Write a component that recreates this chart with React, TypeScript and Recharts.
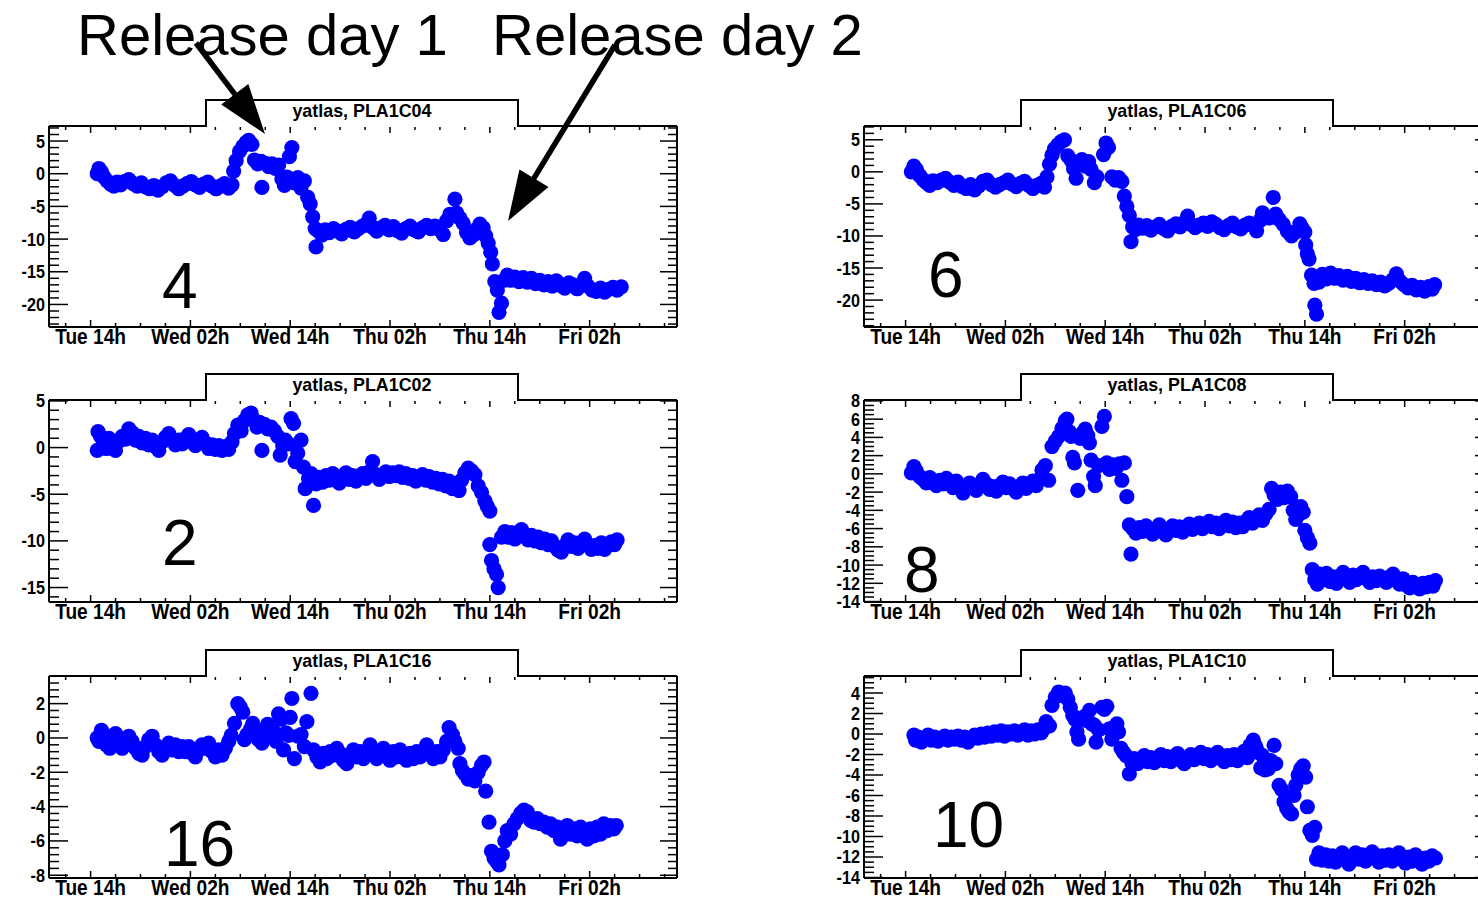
import React from "react";
import { ScatterChart, Scatter, XAxis, YAxis } from "recharts";

const FONT = '"Liberation Sans", Arial, Helvetica, sans-serif';

// x values are hours after Tue 14h
const X_DOMAIN: [number, number] = [-5, 70.5];
const timeTicks = [0, 12, 24, 36, 48, 60];
const timeLabels = ["Tue 14h", "Wed 02h", "Wed 14h", "Thu 02h", "Thu 14h", "Fri 02h"];

const PLA1C04: [number, number][] = [
  [0.8, 0], [1.0, 0.8], [1.3, 0.3], [1.6, -0.5], [2.0, -1.1], [2.4, -1.6], [2.8, -1.9], [3.2, -1.3], [3.6, -1.7],
  [4.1, -1.2], [4.6, -0.9], [5.1, -1.5], [5.6, -1.9], [6.1, -1.4], [6.6, -2.0], [7.1, -2.3], [7.6, -1.8], [8.1, -2.5],
  [8.6, -2.0], [9.1, -1.4], [9.6, -1.1], [10.1, -1.8], [10.6, -2.3], [11.1, -1.9], [11.6, -1.5], [12.1, -1.2],
  [12.6, -1.7], [13.1, -2.1], [13.6, -1.6], [14.1, -1.3], [14.6, -1.9], [15.1, -2.3], [15.6, -1.9], [16.1, -1.5],
  [16.6, -2.2], [17.0, -1.7], [17.2, 0.4], [17.5, 2.0], [17.9, 3.4], [18.3, 4.2], [18.7, 4.8], [19.0, 5.1],
  [19.4, 4.5], [19.7, 2.1], [20.1, 1.5], [20.5, 1.9], [20.6, -2.1], [21.0, 1.6], [21.4, 1.1], [21.8, 1.5],
  [22.2, 0.8], [22.6, 1.3], [23.0, -0.8], [23.3, -1.8], [23.6, -0.5], [23.9, 2.6], [24.2, 4.0], [24.5, -1.4],
  [24.9, -0.6], [25.3, -2.2], [25.7, -1.1], [26.1, -3.6], [26.4, -4.6], [26.7, -6.6], [27.0, -8.4], [27.1, -11.2],
  [27.4, -8.8], [27.8, -9.4], [28.2, -8.6], [28.7, -9.0], [29.2, -8.4], [29.7, -8.8], [30.2, -9.2], [30.7, -8.5],
  [31.2, -8.2], [31.7, -8.9], [32.2, -8.4], [32.7, -8.0], [33.2, -7.6], [33.5, -6.8], [33.9, -8.2], [34.4, -8.8],
  [34.9, -8.3], [35.4, -7.9], [35.9, -8.6], [36.4, -8.1], [36.9, -8.7], [37.4, -9.1], [37.9, -8.4], [38.4, -8.0],
  [38.9, -8.6], [39.4, -8.9], [39.9, -8.3], [40.4, -7.9], [40.9, -8.4], [41.4, -8.0], [41.9, -8.5], [42.4, -9.3],
  [42.8, -7.2], [43.2, -6.2], [43.8, -3.9], [44.0, -6.0], [44.4, -6.8], [44.8, -7.6], [45.2, -9.0], [45.6, -9.8],
  [46.0, -9.4], [46.4, -8.5], [46.8, -7.7], [47.2, -8.3], [47.5, -9.5], [47.8, -10.6], [48.1, -12.0], [48.3, -13.8],
  [48.6, -16.5], [48.9, -17.8], [49.1, -21.2], [49.4, -19.8], [49.7, -16.3], [50.1, -15.5], [50.5, -16.3],
  [51.0, -15.8], [51.5, -16.5], [52.0, -15.9], [52.5, -16.6], [53.0, -16.0], [53.5, -16.8], [54.0, -16.3],
  [54.5, -17.0], [55.0, -16.5], [55.5, -17.2], [56.0, -16.4], [56.5, -17.1], [57.0, -17.5], [57.5, -16.7],
  [58.0, -17.0], [58.5, -17.6], [59.0, -17.1], [59.4, -16.0], [59.8, -17.2], [60.3, -17.8], [60.8, -18.0],
  [61.3, -17.5], [61.8, -18.1], [62.3, -17.7], [62.8, -17.4], [63.3, -17.8], [63.8, -17.3],
];

const PLA1C06: [number, number][] = [
  [0.7, 0], [1.0, 0.9], [1.3, 0.4], [1.7, -0.6], [2.1, -1.2], [2.5, -1.7], [2.9, -2.1], [3.3, -1.4], [3.8, -1.7],
  [4.3, -1.3], [4.8, -1.0], [5.3, -1.6], [5.8, -2.1], [6.3, -1.6], [6.8, -2.3], [7.3, -2.6], [7.8, -2.0], [8.3, -2.8],
  [8.8, -2.2], [9.3, -1.5], [9.8, -1.3], [10.3, -2.0], [10.8, -2.4], [11.3, -2.0], [11.8, -1.7], [12.3, -1.3],
  [12.8, -1.9], [13.3, -2.3], [13.8, -1.8], [14.3, -1.5], [14.8, -2.1], [15.3, -2.6], [15.8, -2.1], [16.3, -1.8],
  [16.7, -2.4], [17.0, -0.8], [17.3, 1.2], [17.6, 2.6], [17.9, 3.6], [18.3, 4.2], [18.7, 4.7], [19.1, 5.0],
  [19.5, 2.5], [19.9, 1.8], [20.2, 0.5], [20.5, -1.0], [20.8, 1.2], [21.2, 1.9], [21.6, 0.9], [22.0, 1.6],
  [22.3, 0.4], [22.7, -1.7], [23.0, -0.8], [23.8, 2.7], [24.1, 4.5], [24.4, 3.8], [24.8, -0.8], [25.2, -1.3],
  [25.6, -0.9], [26.0, -1.5], [26.3, -3.8], [26.6, -5.4], [26.9, -6.8], [27.1, -10.9], [27.3, -8.6], [27.6, -9.0],
  [28.0, -8.3], [28.5, -8.8], [29.0, -8.4], [29.5, -9.1], [30.0, -8.6], [30.5, -8.2], [31.0, -8.8], [31.5, -9.2],
  [32.0, -8.5], [32.5, -8.1], [33.0, -8.6], [33.5, -7.9], [33.9, -6.9], [34.3, -8.2], [34.8, -8.7], [35.3, -8.3],
  [35.8, -8.0], [36.3, -8.5], [36.8, -7.8], [37.3, -8.2], [37.8, -8.7], [38.3, -9.0], [38.8, -8.4], [39.3, -8.0],
  [39.8, -8.6], [40.3, -8.9], [40.8, -8.3], [41.3, -8.0], [41.8, -8.4], [42.2, -9.2], [42.6, -7.6], [42.9, -6.4],
  [43.3, -7.0], [43.7, -7.2], [44.2, -4.0], [44.5, -6.6], [44.9, -7.4], [45.4, -8.2], [45.9, -9.3], [46.4, -10.0],
  [46.9, -9.4], [47.4, -8.1], [47.7, -8.8], [48.0, -9.4], [48.1, -11.4], [48.3, -12.8], [48.5, -13.6],
  [48.8, -16.1], [49.1, -17.4], [49.2, -20.8], [49.4, -22.2], [49.7, -17.2], [50.1, -16.0], [50.6, -16.7],
  [51.1, -15.8], [51.6, -16.6], [52.1, -16.2], [52.6, -16.9], [53.1, -16.3], [53.6, -17.1], [54.1, -16.6],
  [54.6, -17.3], [55.1, -16.8], [55.6, -17.4], [56.1, -17.0], [56.6, -17.6], [57.1, -17.2], [57.6, -17.8],
  [58.1, -17.4], [58.6, -16.8], [59.0, -15.9], [59.4, -17.0], [59.9, -17.6], [60.4, -18.1], [60.9, -17.7],
  [61.4, -18.4], [61.9, -18.0], [62.4, -18.6], [62.9, -17.9], [63.3, -18.3], [63.6, -17.6],
];

const PLA1C02: [number, number][] = [
  [0.8, -0.3], [0.9, 1.7], [1.2, 1.2], [1.5, 0.2], [1.9, -0.1], [2.2, 1.0], [2.6, 0.4], [3.0, -0.3], [3.4, 0.7],
  [3.8, 1.2], [4.2, 0.9], [4.6, 2.0], [5.0, 1.6], [5.4, 0.8], [5.8, 1.2], [6.2, 0.5], [6.6, 1.0], [7.0, 0.3],
  [7.4, 0.8], [7.8, 0.1], [8.2, -0.3], [8.6, 0.6], [9.0, 1.1], [9.4, 1.5], [9.8, 0.9], [10.2, 0.3], [10.6, 0.8],
  [11.0, 0.4], [11.4, 1.0], [11.8, 1.4], [12.2, 0.7], [12.6, 0.2], [13.0, 0.6], [13.4, 1.1], [13.8, 0.5],
  [14.2, -0.1], [14.6, 0.3], [15.0, -0.2], [15.4, 0.2], [15.8, -0.3], [16.2, 0.1], [16.6, -0.2], [17.0, 0.6],
  [17.3, 1.5], [17.7, 2.4], [18.1, 1.8], [18.5, 2.9], [18.9, 3.5], [19.3, 3.7], [19.7, 2.9], [20.0, 2.2],
  [20.3, 2.7], [20.6, -0.3], [20.9, 2.5], [21.3, 2.0], [21.7, 2.2], [22.1, 1.8], [22.5, 1.2], [22.8, -0.8],
  [23.1, 0.2], [23.4, 0.8], [23.8, 0.4], [24.1, 3.1], [24.4, 2.6], [24.6, -1.5], [24.9, -0.6], [25.3, 0.8],
  [25.6, -2.1], [25.8, -4.4], [26.2, -3.3], [26.5, -2.8], [26.8, -6.2], [27.1, -3.9], [27.5, -3.2], [27.9, -3.7],
  [28.3, -3.0], [28.7, -3.5], [29.1, -2.8], [29.5, -3.3], [29.9, -3.8], [30.3, -3.1], [30.7, -2.7], [31.1, -3.4],
  [31.5, -3.0], [31.9, -3.6], [32.3, -3.2], [32.7, -2.8], [33.1, -3.3], [33.5, -2.6], [33.9, -1.5], [34.3, -2.9],
  [34.7, -3.4], [35.1, -3.0], [35.5, -2.6], [35.9, -3.1], [36.3, -2.7], [36.7, -3.0], [37.1, -2.6], [37.5, -3.2],
  [37.9, -2.8], [38.3, -3.3], [38.7, -3.0], [39.1, -3.6], [39.5, -3.2], [39.9, -2.9], [40.3, -3.5], [40.7, -3.1],
  [41.1, -3.7], [41.5, -3.3], [41.9, -3.9], [42.3, -3.4], [42.7, -4.1], [43.1, -3.6], [43.5, -4.4], [43.9, -3.9],
  [44.3, -4.6], [44.6, -3.5], [45.0, -2.7], [45.4, -2.2], [45.8, -2.5], [46.2, -2.9], [46.6, -4.1], [47.0, -4.8],
  [47.4, -5.7], [47.7, -6.3], [48.0, -6.8], [48.0, -10.4], [48.2, -12.1], [48.5, -13.0], [48.8, -13.6],
  [49.0, -15.0], [49.4, -9.6], [49.8, -9.0], [50.2, -9.6], [50.6, -9.1], [51.0, -9.8], [51.4, -9.3], [51.8, -8.8],
  [52.2, -9.5], [52.6, -9.9], [53.0, -9.4], [53.4, -10.0], [53.8, -9.6], [54.2, -10.2], [54.6, -9.8], [55.0, -10.4],
  [55.4, -10.0], [55.8, -10.6], [56.2, -11.0], [56.6, -11.2], [57.0, -10.5], [57.4, -9.9], [57.8, -10.6],
  [58.2, -10.2], [58.6, -10.8], [59.0, -10.3], [59.4, -9.8], [59.8, -10.4], [60.2, -10.9], [60.6, -10.5],
  [61.0, -10.8], [61.4, -10.2], [61.8, -10.9], [62.2, -10.5], [62.6, -10.1], [63.0, -10.4], [63.3, -9.9],
];

const PLA1C08: [number, number][] = [
  [0.7, 0.1], [1.0, 0.8], [1.3, 0.3], [1.7, -0.3], [2.1, -0.6], [2.5, -1.0], [2.9, -0.4], [3.3, -0.9], [3.7, -1.3],
  [4.1, -0.7], [4.5, -1.1], [4.9, -0.5], [5.3, -1.0], [5.7, -1.5], [6.1, -0.8], [6.5, -1.3], [6.9, -2.1],
  [7.3, -1.6], [7.7, -1.0], [8.1, -1.5], [8.5, -1.8], [8.9, -1.2], [9.3, -0.6], [9.7, -1.1], [10.1, -1.7],
  [10.5, -1.4], [10.9, -1.9], [11.3, -1.3], [11.7, -0.9], [12.1, -1.5], [12.5, -1.1], [12.9, -1.6], [13.3, -2.0],
  [13.7, -1.4], [14.1, -1.0], [14.5, -1.6], [14.9, -1.2], [15.3, -0.8], [15.7, -1.3], [16.1, -0.6], [16.4, 0.4],
  [16.8, 0.9], [17.2, -0.7], [17.6, 3.0], [18.0, 3.6], [18.4, 4.1], [18.8, 5.0], [19.2, 5.8], [19.4, 6.0],
  [19.7, 4.6], [19.9, 4.1], [20.1, 1.8], [20.3, 1.2], [20.7, -1.8], [21.0, 3.9], [21.3, 4.5], [21.6, 4.9],
  [21.9, 4.2], [22.1, 3.4], [22.3, 1.5], [22.6, -0.3], [22.8, -1.3], [23.2, 0.9], [23.6, 5.2], [23.9, 6.3],
  [24.2, 1.2], [24.5, 0.5], [24.9, 1.0], [25.3, 0.6], [25.7, 1.1], [26.0, -0.7], [26.3, 1.2], [26.6, -2.5],
  [26.9, -5.6], [27.1, -8.8], [27.3, -6.0], [27.7, -6.5], [28.1, -5.9], [28.5, -6.3], [28.9, -5.7], [29.3, -6.2],
  [29.7, -6.6], [30.1, -6.0], [30.5, -5.6], [30.9, -6.3], [31.3, -6.7], [31.7, -6.1], [32.1, -5.7], [32.5, -6.2],
  [32.9, -5.8], [33.3, -6.4], [33.7, -5.9], [34.1, -5.5], [34.5, -6.1], [34.9, -5.8], [35.3, -5.4], [35.7, -6.0],
  [36.1, -5.6], [36.5, -5.2], [36.9, -5.8], [37.3, -5.4], [37.7, -6.0], [38.1, -5.5], [38.5, -5.1], [38.9, -5.7],
  [39.3, -5.3], [39.7, -5.9], [40.1, -5.4], [40.5, -5.8], [40.9, -5.2], [41.3, -4.8], [41.7, -5.4], [42.1, -4.9],
  [42.5, -4.5], [42.9, -5.1], [43.3, -4.4], [43.7, -3.9], [44.0, -1.6], [44.3, -2.3], [44.7, -2.8], [45.1, -2.0],
  [45.5, -2.6], [45.9, -1.9], [46.3, -2.5], [46.6, -4.0], [46.9, -5.0], [47.2, -4.5], [47.5, -3.6], [47.8, -4.2],
  [48.0, -6.2], [48.3, -7.0], [48.6, -7.6], [48.9, -10.5], [49.2, -11.6], [49.5, -12.1], [49.8, -11.0],
  [50.2, -11.6], [50.6, -10.9], [51.0, -11.8], [51.4, -11.3], [51.8, -12.0], [52.2, -11.2], [52.6, -10.8],
  [53.0, -11.5], [53.4, -11.9], [53.8, -11.1], [54.2, -11.6], [54.6, -11.2], [55.0, -10.8], [55.4, -11.5],
  [55.8, -11.9], [56.2, -11.3], [56.6, -11.7], [57.0, -11.2], [57.4, -11.6], [57.8, -11.9], [58.2, -11.3],
  [58.6, -11.0], [59.0, -11.7], [59.4, -12.1], [59.8, -11.5], [60.2, -12.2], [60.6, -12.5], [61.0, -11.9],
  [61.4, -12.3], [61.8, -12.6], [62.2, -12.0], [62.6, -12.4], [63.0, -11.9], [63.4, -12.3], [63.7, -11.7],
];

const PLA1C16: [number, number][] = [
  [0.8, 0.0], [1.0, -0.2], [1.3, 0.45], [1.6, 0.2], [1.9, -0.4], [2.3, -0.6], [2.7, -0.2], [3.0, 0.25],
  [3.4, -0.3], [3.8, -0.6], [4.2, -0.4], [4.6, 0.1], [5.0, -0.2], [5.4, -0.6], [5.8, -0.9], [6.2, -1.0],
  [6.6, -0.5], [7.0, -0.1], [7.4, 0.1], [7.8, -0.4], [8.2, -0.8], [8.6, -1.0], [9.0, -0.6], [9.4, -0.3],
  [9.8, -0.7], [10.2, -0.4], [10.6, -0.8], [11.0, -0.5], [11.4, -0.8], [11.8, -0.5], [12.2, -0.9], [12.6, -1.1],
  [13.0, -0.7], [13.4, -0.4], [13.8, -0.6], [14.2, -0.3], [14.6, -0.8], [15.0, -1.1], [15.4, -0.7], [15.8, -1.0],
  [16.2, -0.6], [16.6, -0.2], [16.9, 0.15], [17.3, 0.85], [17.7, 2.0], [18.0, 1.8], [18.3, 1.5], [18.5, -0.1],
  [18.8, 0.2], [19.2, 0.5], [19.5, 0.85], [19.8, 0.35], [20.2, -0.1], [20.6, -0.3], [20.9, 0.5], [21.3, 0.8],
  [21.6, 0.1], [22.0, 0.4], [22.3, -0.2], [22.6, 1.4], [22.9, 1.1], [23.2, -0.7], [23.5, 0.3], [23.8, 0.15],
  [24.0, 1.2], [24.2, 2.3], [24.5, -1.2], [24.9, 0.1], [25.3, 0.2], [25.7, -0.5], [26.0, 0.95], [26.5, 2.6],
  [26.8, -0.7], [27.2, -1.1], [27.6, -1.4], [28.0, -0.9], [28.4, -1.2], [28.8, -0.8], [29.2, -1.0], [29.6, -0.6],
  [30.0, -0.9], [30.4, -1.3], [30.8, -1.5], [31.2, -1.0], [31.6, -0.7], [32.0, -1.1], [32.4, -0.8], [32.8, -1.2],
  [33.2, -0.9], [33.6, -0.4], [34.0, -0.8], [34.4, -1.2], [34.8, -0.9], [35.2, -0.6], [35.6, -1.0], [36.0, -1.3],
  [36.4, -0.8], [36.8, -1.1], [37.2, -0.7], [37.6, -1.0], [38.0, -1.3], [38.4, -0.9], [38.8, -1.2], [39.2, -0.8],
  [39.6, -1.1], [40.0, -0.8], [40.4, -0.4], [40.8, -0.9], [41.2, -1.2], [41.6, -0.8], [42.0, -1.1], [42.4, -0.7],
  [42.8, -0.2], [43.1, 0.6], [43.5, 0.2], [43.8, -0.2], [44.2, -0.6], [44.4, -1.5], [44.7, -1.9], [45.0, -2.1],
  [45.4, -2.4], [45.8, -2.2], [46.2, -2.5], [46.6, -2.0], [47.0, -1.6], [47.3, -1.4], [47.5, -3.1], [47.9, -4.9],
  [48.2, -6.6], [48.5, -7.0], [48.8, -7.2], [49.1, -7.4], [49.5, -6.8], [49.8, -6.0], [50.1, -5.4], [50.5, -5.6],
  [50.9, -5.0], [51.3, -4.7], [51.7, -4.4], [52.1, -4.2], [52.5, -4.3], [52.9, -4.8], [53.3, -4.9], [53.7, -4.7],
  [54.1, -5.0], [54.5, -4.9], [54.9, -5.2], [55.3, -5.0], [55.7, -5.4], [56.1, -5.2], [56.5, -5.9], [56.9, -5.4],
  [57.3, -5.1], [57.7, -5.6], [58.1, -5.3], [58.5, -5.7], [58.9, -5.2], [59.3, -5.5], [59.7, -5.9], [60.1, -5.3],
  [60.5, -5.7], [60.9, -5.2], [61.3, -5.6], [61.7, -5.0], [62.1, -5.4], [62.5, -5.1], [62.9, -5.3], [63.2, -5.1],
];

const PLA1C10: [number, number][] = [
  [1.0, -0.1], [1.2, -0.6], [1.5, -0.3], [1.9, -0.8], [2.3, -0.4], [2.7, -0.1], [3.1, -0.6], [3.5, -0.3],
  [3.9, -0.7], [4.3, -0.4], [4.7, -0.2], [5.1, -0.6], [5.5, -0.3], [5.9, -0.5], [6.3, -0.2], [6.7, -0.6],
  [7.1, -0.3], [7.5, -0.8], [7.9, -0.4], [8.3, -0.1], [8.7, -0.4], [9.1, 0.0], [9.5, -0.3], [9.9, 0.1],
  [10.3, -0.2], [10.7, 0.2], [11.1, -0.1], [11.5, 0.3], [11.9, -0.2], [12.3, 0.2], [12.7, 0.0], [13.1, 0.3],
  [13.5, -0.1], [13.9, 0.2], [14.3, 0.4], [14.7, -0.1], [15.1, 0.3], [15.5, 0.0], [15.9, 0.4], [16.3, 0.1],
  [16.6, 0.5], [16.9, 1.2], [17.3, 0.8], [17.6, 2.8], [18.0, 3.6], [18.4, 4.1], [18.8, 3.8], [19.2, 4.0],
  [19.5, 3.4], [19.8, 2.6], [20.1, 1.8], [20.4, 1.4], [20.6, 0.2], [20.8, -0.5], [21.2, 1.5], [21.5, 1.7],
  [21.8, 1.3], [22.1, 2.3], [22.4, 1.0], [22.7, 0.85], [22.9, -0.8], [23.2, 0.4], [23.6, 2.6], [23.9, 2.4],
  [24.2, 2.7], [24.5, 0.5], [24.8, -0.5], [25.1, 0.4], [25.4, 1.0], [25.6, 0.2], [25.9, -1.4], [26.2, -1.8],
  [26.5, -2.1], [26.9, -3.9], [27.2, -2.8], [27.5, -2.4], [27.9, -2.9], [28.3, -2.5], [28.7, -2.1], [29.1, -2.7],
  [29.5, -2.3], [29.9, -2.8], [30.3, -2.4], [30.7, -2.0], [31.1, -2.6], [31.5, -2.2], [31.9, -2.7], [32.3, -2.3],
  [32.7, -1.9], [33.1, -2.4], [33.5, -2.9], [33.9, -2.3], [34.3, -2.0], [34.7, -2.5], [35.1, -2.1], [35.5, -1.8],
  [35.9, -2.4], [36.3, -2.0], [36.7, -2.6], [37.1, -2.2], [37.5, -1.8], [37.9, -2.3], [38.3, -2.7], [38.7, -2.1],
  [39.1, -2.5], [39.5, -2.0], [39.9, -2.6], [40.3, -2.2], [40.7, -1.7], [41.1, -2.3], [41.4, -1.1], [41.8, -0.6],
  [42.1, -1.2], [42.4, -1.8], [42.7, -3.3], [42.9, -2.1], [43.2, -3.5], [43.6, -3.4], [43.9, -2.6], [44.3, -1.1],
  [44.5, -2.9], [44.9, -5.0], [45.2, -5.4], [45.5, -6.6], [45.8, -7.2], [46.1, -7.6], [46.4, -7.8], [46.7, -6.0],
  [46.9, -5.0], [47.2, -4.0], [47.5, -3.4], [47.8, -3.1], [48.1, -4.2], [48.3, -7.1], [48.6, -9.4], [48.9, -9.9],
  [49.2, -9.1], [49.4, -12.2], [49.7, -11.6], [50.1, -12.3], [50.5, -11.8], [50.9, -12.4], [51.3, -11.9],
  [51.7, -12.5], [52.1, -12.0], [52.5, -11.6], [52.9, -12.2], [53.3, -12.7], [53.7, -12.0], [54.1, -11.6],
  [54.5, -12.2], [54.9, -11.8], [55.3, -12.4], [55.7, -11.9], [56.1, -11.5], [56.5, -12.1], [56.9, -12.5],
  [57.3, -11.9], [57.7, -12.3], [58.1, -11.8], [58.5, -12.4], [58.9, -12.0], [59.3, -11.6], [59.7, -12.2],
  [60.1, -12.6], [60.5, -12.0], [60.9, -12.4], [61.3, -11.8], [61.7, -12.3], [62.1, -12.7], [62.5, -12.1],
  [62.9, -12.4], [63.3, -11.9], [63.7, -12.1],
];

type Panel = {
  title: string;
  data: [number, number][];
  left: number;
  top: number;
  height: number;
  yDomain: [number, number];
  yMajor: number;
  yMinor: number;
  label: string;
  labelX: number;
  labelY: number;
};

const panels: Panel[] = [
  { title: "yatlas, PLA1C04", data: PLA1C04, left: 0, top: 126, height: 201, yDomain: [-23.45, 7.3], yMajor: 5, yMinor: 1, label: "4", labelX: 162, labelY: 308 },
  { title: "yatlas, PLA1C06", data: PLA1C06, left: 815, top: 126, height: 201, yDomain: [-24.2, 7.15], yMajor: 5, yMinor: 1, label: "6", labelX: 928, labelY: 297 },
  { title: "yatlas, PLA1C02", data: PLA1C02, left: 0, top: 400, height: 202, yDomain: [-16.55, 5.1], yMajor: 5, yMinor: 1, label: "2", labelX: 162, labelY: 565 },
  { title: "yatlas, PLA1C08", data: PLA1C08, left: 815, top: 400, height: 202, yDomain: [-14.05, 8.1], yMajor: 2, yMinor: 0.5, label: "8", labelX: 904, labelY: 592 },
  { title: "yatlas, PLA1C16", data: PLA1C16, left: 0, top: 676, height: 202, yDomain: [-8.16, 3.61], yMajor: 2, yMinor: 0.4, label: "16", labelX: 164, labelY: 866 },
  { title: "yatlas, PLA1C10", data: PLA1C10, left: 815, top: 676, height: 202, yDomain: [-14.05, 5.66], yMajor: 2, yMinor: 0.5, label: "10", labelX: 933, labelY: 847 },
];

const TOP_H = 26;
const BOTTOM_H = 34;
const LEFT_W = 49;
const RIGHT_W = 23;
const CHART_W = 700;

function makeTicks(lo: number, hi: number, step: number) {
  const out: number[] = [];
  for (let k = Math.ceil(lo / step - 1e-9); k * step <= hi + 1e-9; k++) {
    out.push(Math.round(k * step * 1000) / 1000);
  }
  return out;
}

function isMajor(v: number, step: number) {
  const r = v / step;
  return Math.abs(r - Math.round(r)) < 1e-6;
}

const axisLine = { stroke: "#000", strokeWidth: 2 };

function PanelChart({ p }: { p: Panel }) {
  const pts = p.data.map(([h, v]) => ({ h, v }));
  const xTicks = makeTicks(X_DOMAIN[0], X_DOMAIN[1], 3);
  const yTicks = makeTicks(p.yDomain[0], p.yDomain[1], p.yMinor);

  const bottomTick = (t: any) => {
    const v = t.payload.value;
    const major = isMajor(v, 12);
    const idx = timeTicks.indexOf(v);
    return (
      <g>
        <line x1={t.x} x2={t.x} y1={t.y} y2={t.y - (major ? 7 : 4)} stroke="#000" strokeWidth={1.5} />
        {idx >= 0 && (
          <text
            transform={`translate(${t.x},${t.y + 17}) scale(0.87,1)`}
            textAnchor="middle"
            fontFamily={FONT}
            fontWeight="bold"
            fontSize={22}
            fill="#000"
          >
            {timeLabels[idx]}
          </text>
        )}
      </g>
    );
  };
  const topTick = (t: any) => {
    const major = isMajor(t.payload.value, 12);
    return <line x1={t.x} x2={t.x} y1={t.y} y2={t.y + (major ? 7 : 4)} stroke="#000" strokeWidth={1.5} />;
  };
  const leftTick = (t: any) => {
    const v = t.payload.value;
    const major = isMajor(v, p.yMajor);
    return (
      <g>
        <line x1={t.x} x2={t.x + (major ? 19 : 10)} y1={t.y} y2={t.y} stroke="#000" strokeWidth={1.5} />
        {major && (
          <text
            transform={`translate(${t.x - 4},${t.y}) scale(0.9,1)`}
            dy="0.36em"
            textAnchor="end"
            fontFamily={FONT}
            fontWeight="bold"
            fontSize={18}
            fill="#000"
          >
            {String(Math.round(v))}
          </text>
        )}
      </g>
    );
  };
  const rightTick = (t: any) => {
    const major = isMajor(t.payload.value, p.yMajor);
    return <line x1={t.x} x2={t.x - (major ? 17 : 9)} y1={t.y} y2={t.y} stroke="#000" strokeWidth={1.5} />;
  };

  return (
    <div style={{ position: "absolute", left: p.left, top: p.top - TOP_H }}>
      <ScatterChart
        width={CHART_W}
        height={TOP_H + p.height + BOTTOM_H}
        margin={{ top: 0, right: 0, bottom: 0, left: 0 }}
      >
        <XAxis
          xAxisId="b"
          type="number"
          dataKey="h"
          domain={X_DOMAIN}
          allowDataOverflow
          ticks={xTicks}
          interval={0}
          height={BOTTOM_H}
          tickSize={0}
          tickMargin={0}
          tickLine={false}
          axisLine={axisLine}
          tick={bottomTick}
        />
        <XAxis
          xAxisId="t"
          orientation="top"
          type="number"
          dataKey="h"
          domain={X_DOMAIN}
          allowDataOverflow
          ticks={xTicks}
          interval={0}
          height={TOP_H}
          tickSize={0}
          tickMargin={0}
          tickLine={false}
          axisLine={axisLine}
          tick={topTick}
        />
        <YAxis
          yAxisId="l"
          type="number"
          dataKey="v"
          domain={p.yDomain}
          allowDataOverflow
          ticks={yTicks}
          interval={0}
          width={LEFT_W}
          tickSize={0}
          tickMargin={0}
          tickLine={false}
          axisLine={axisLine}
          tick={leftTick}
        />
        <YAxis
          yAxisId="r"
          orientation="right"
          type="number"
          dataKey="v"
          domain={p.yDomain}
          allowDataOverflow
          ticks={yTicks}
          interval={0}
          width={RIGHT_W}
          tickSize={0}
          tickMargin={0}
          tickLine={false}
          axisLine={axisLine}
          tick={rightTick}
        />
        <Scatter
          xAxisId="t"
          yAxisId="r"
          data={pts}
          isAnimationActive={false}
          shape={() => <g />}
        />
        <Scatter
          xAxisId="b"
          yAxisId="l"
          data={pts}
          isAnimationActive={false}
          shape={(s: any) => <circle cx={s.cx} cy={s.cy} r={7.6} fill="#0000ff" />}
        />
      </ScatterChart>
    </div>
  );
}

function Arrow({ x1, y1, x2, y2 }: { x1: number; y1: number; x2: number; y2: number }) {
  const len = Math.hypot(x2 - x1, y2 - y1);
  const ux = (x2 - x1) / len;
  const uy = (y2 - y1) / len;
  const headLen = 50;
  const headW = 17;
  const bx = x2 - ux * headLen;
  const by = y2 - uy * headLen;
  return (
    <g>
      <line x1={x1} y1={y1} x2={bx + ux * 4} y2={by + uy * 4} stroke="#000" strokeWidth={5.5} />
      <polygon
        points={`${x2},${y2} ${bx - uy * headW},${by + ux * headW} ${bx + uy * headW},${by - ux * headW}`}
        fill="#000"
      />
    </g>
  );
}

export default function App() {
  return (
    <div
      style={{
        position: "absolute",
        left: 0,
        top: 0,
        width: 1478,
        height: 898,
        overflow: "hidden",
        background: "#fff",
      }}
    >
      {panels.map((p) => (
        <PanelChart key={p.title} p={p} />
      ))}
      {panels.map((p) => (
        <div
          key={p.title + "-box"}
          style={{
            position: "absolute",
            left: p.left + 205,
            top: p.top - 27,
            width: 314,
            height: 28,
            boxSizing: "border-box",
            border: "2px solid #000",
            borderBottom: "none",
            background: "#fff",
            fontFamily: FONT,
            fontWeight: "bold",
            fontSize: 19,
            lineHeight: "20px",
            textAlign: "center",
            color: "#000",
          }}
        >
          <span style={{ display: "inline-block", transform: "scaleX(0.94)" }}>{p.title}</span>
        </div>
      ))}
      <svg
        width={1478}
        height={898}
        style={{ position: "absolute", left: 0, top: 0, pointerEvents: "none" }}
      >
        {panels.map((p) => (
          <text key={p.title + "-n"} x={p.labelX} y={p.labelY} fontFamily={FONT} fontSize={64} fill="#000">
            {p.label}
          </text>
        ))}
        <text x={77} y={55} fontFamily={FONT} fontSize={58} fill="#000">
          Release day 1
        </text>
        <text x={492} y={55} fontFamily={FONT} fontSize={58} fill="#000">
          Release day 2
        </text>
        <Arrow x1={196} y1={43} x2={265} y2={134} />
        <Arrow x1={615} y1={45} x2={508} y2={221} />
      </svg>
    </div>
  );
}
